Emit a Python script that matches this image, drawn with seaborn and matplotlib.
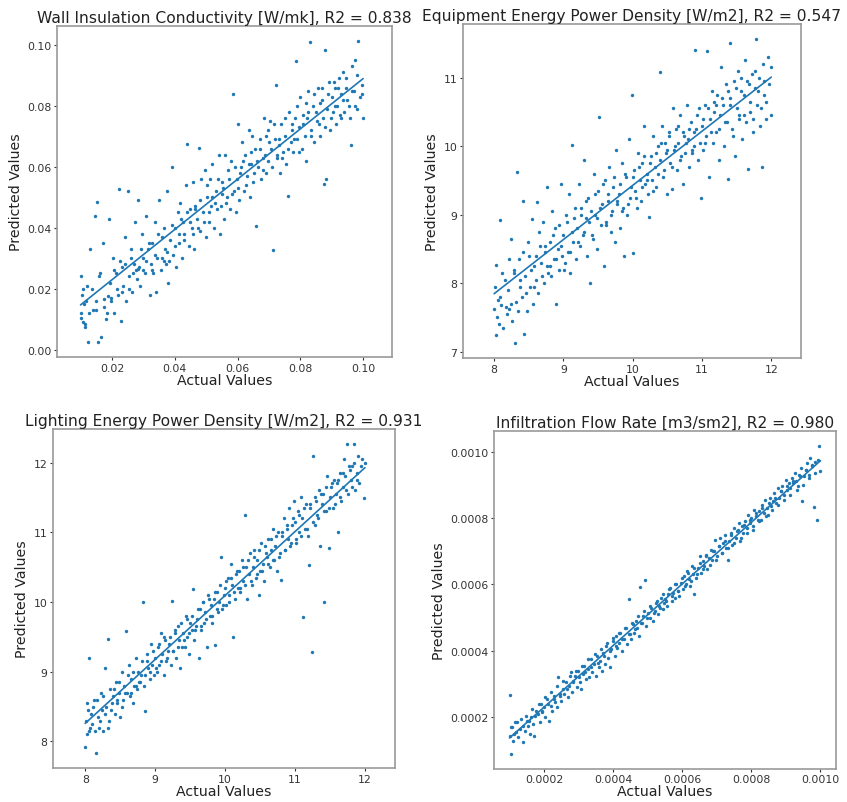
import numpy as np
import seaborn as sns
import matplotlib.pyplot as plt

# values (estimated cloud of points)
wall_actual = [
    0.0100, 0.0103, 0.0106, 0.0109, 0.0112, 0.0115, 0.0120, 0.0125, 0.0131, 0.0140,
    0.0145, 0.0148, 0.0152, 0.0155, 0.0160, 0.0165, 0.0170, 0.0176, 0.0182, 0.0188,
    0.0190, 0.0194, 0.0198, 0.0203, 0.0208, 0.0212, 0.0218, 0.0222, 0.0228, 0.0233,
    0.0236, 0.0240, 0.0245, 0.0251, 0.0255, 0.0260, 0.0265, 0.0270, 0.0275, 0.0279,
    0.0282, 0.0286, 0.0290, 0.0295, 0.0300, 0.0305, 0.0310, 0.0315, 0.0320, 0.0324,
    0.0328, 0.0332, 0.0336, 0.0340, 0.0345, 0.0350, 0.0355, 0.0360, 0.0365, 0.0369,
    0.0372, 0.0376, 0.0380, 0.0385, 0.0390, 0.0395, 0.0400, 0.0405, 0.0410, 0.0414,
    0.0418, 0.0422, 0.0426, 0.0430, 0.0435, 0.0440, 0.0445, 0.0450, 0.0455, 0.0459,
    0.0462, 0.0466, 0.0470, 0.0476, 0.0480, 0.0485, 0.0490, 0.0495, 0.0500, 0.0504,
    0.0508, 0.0512, 0.0516, 0.0520, 0.0525, 0.0530, 0.0535, 0.0540, 0.0545, 0.0549,
    0.0552, 0.0556, 0.0560, 0.0565, 0.0570, 0.0575, 0.0580, 0.0585, 0.0590, 0.0594,
    0.0598, 0.0602, 0.0606, 0.0610, 0.0615, 0.0620, 0.0625, 0.0630, 0.0635, 0.0639,
    0.0642, 0.0646, 0.0650, 0.0655, 0.0660, 0.0665, 0.0670, 0.0675, 0.0680, 0.0684,
    0.0688, 0.0692, 0.0696, 0.0700, 0.0705, 0.0710, 0.0713, 0.0718, 0.0722, 0.0727,
    0.0731, 0.0735, 0.0740, 0.0745, 0.0750, 0.0755, 0.0760, 0.0765, 0.0770, 0.0774,
    0.0778, 0.0782, 0.0786, 0.0790, 0.0795, 0.0800, 0.0805, 0.0810, 0.0815, 0.0819,
    0.0822, 0.0826, 0.0831, 0.0835, 0.0840, 0.0845, 0.0850, 0.0855, 0.0860, 0.0864,
    0.0868, 0.0872, 0.0876, 0.0879, 0.0882, 0.0886, 0.0890, 0.0895, 0.0900, 0.0905,
    0.0910, 0.0914, 0.0918, 0.0922, 0.0926, 0.0930, 0.0935, 0.0940, 0.0945, 0.0950,
    0.0958, 0.0962, 0.0966, 0.0970, 0.0975, 0.0980, 0.0985, 0.0990, 0.0995, 0.1000,
    0.0102, 0.0108, 0.0113, 0.0118, 0.0127, 0.0135, 0.0150, 0.0163, 0.0174, 0.0185,
    0.0196, 0.0205, 0.0215, 0.0225, 0.0231, 0.0243, 0.0253, 0.0262, 0.0268, 0.0277,
    0.0284, 0.0292, 0.0298, 0.0308, 0.0318, 0.0326, 0.0338, 0.0347, 0.0358, 0.0367,
    0.0374, 0.0383, 0.0392, 0.0402, 0.0412, 0.0420, 0.0428, 0.0438, 0.0448, 0.0457,
    0.0464, 0.0473, 0.0482, 0.0492, 0.0502, 0.0510, 0.0518, 0.0528, 0.0538, 0.0547,
    0.0554, 0.0563, 0.0572, 0.0582, 0.0592, 0.0600, 0.0608, 0.0618, 0.0628, 0.0637,
    0.0644, 0.0652, 0.0662, 0.0672, 0.0682, 0.0690, 0.0698, 0.0708, 0.0716, 0.0725,
    0.0733, 0.0742, 0.0752, 0.0762, 0.0772, 0.0780, 0.0788, 0.0797, 0.0807, 0.0817,
    0.0824, 0.0833, 0.0842, 0.0852, 0.0862, 0.0870, 0.0878, 0.0888, 0.0897, 0.0907,
    0.0912, 0.0920, 0.0928, 0.0937, 0.0947, 0.0955, 0.0964, 0.0973, 0.0982, 0.0997,
]
wall_pred = [
    0.0240, 0.0120, 0.0180, 0.0090, 0.0150, 0.0075, 0.0210, 0.0025, 0.0330, 0.0130,
    0.0440, 0.0160, 0.0486, 0.0025, 0.0240, 0.0040, 0.0350, 0.0140, 0.0100, 0.0175,
    0.0430, 0.0220, 0.0160, 0.0300, 0.0120, 0.0250, 0.0180, 0.0526, 0.0095, 0.0270,
    0.0210, 0.0370, 0.0160, 0.0519, 0.0240, 0.0330, 0.0190, 0.0280, 0.0420, 0.0230,
    0.0490, 0.0270, 0.0210, 0.0380, 0.0300, 0.0250, 0.0440, 0.0330, 0.0180, 0.0280,
    0.0350, 0.0250, 0.0420, 0.0190, 0.0300, 0.0490, 0.0260, 0.0370, 0.0290, 0.0330,
    0.0280, 0.0520, 0.0220, 0.0360, 0.0600, 0.0310, 0.0400, 0.0270, 0.0450, 0.0350,
    0.0480, 0.0300, 0.0420, 0.0380, 0.0540, 0.0675, 0.0340, 0.0460, 0.0400, 0.0550,
    0.0330, 0.0470, 0.0430, 0.0662, 0.0390, 0.0560, 0.0450, 0.0590, 0.0370, 0.0500,
    0.0420, 0.0560, 0.0470, 0.0610, 0.0400, 0.0520, 0.0460, 0.0640, 0.0380, 0.0510,
    0.0550, 0.0430, 0.0640, 0.0500, 0.0590, 0.0460, 0.0620, 0.0838, 0.0520, 0.0450,
    0.0560, 0.0740, 0.0490, 0.0600, 0.0680, 0.0520, 0.0640, 0.0570, 0.0720, 0.0500,
    0.0610, 0.0700, 0.0550, 0.0660, 0.0406, 0.0600, 0.0690, 0.0560, 0.0630, 0.0760,
    0.0640, 0.0580, 0.0720, 0.0680, 0.0750, 0.0600, 0.0328, 0.0690, 0.0870, 0.0630,
    0.0670, 0.0580, 0.0740, 0.0650, 0.0700, 0.0610, 0.0504, 0.0780, 0.0680, 0.0720,
    0.0650, 0.0760, 0.0949, 0.0690, 0.0730, 0.0830, 0.0660, 0.0770, 0.0700, 0.0620,
    0.0760, 0.0850, 0.1011, 0.0720, 0.0800, 0.0680, 0.0780, 0.0860, 0.0740, 0.0700,
    0.0820, 0.0760, 0.0545, 0.0984, 0.0561, 0.0790, 0.0880, 0.0720, 0.0830, 0.0780,
    0.0860, 0.0740, 0.0800, 0.0890, 0.0770, 0.0840, 0.0910, 0.0780, 0.0860, 0.0820,
    0.0760, 0.0670, 0.0930, 0.0850, 0.0800, 0.0900, 0.1013, 0.0830, 0.0870, 0.0760,
    0.0105, 0.0200, 0.0085, 0.0160, 0.0120, 0.0200, 0.0130, 0.0250, 0.0165, 0.0120,
    0.0170, 0.0260, 0.0200, 0.0290, 0.0190, 0.0280, 0.0200, 0.0300, 0.0250, 0.0260,
    0.0265, 0.0330, 0.0260, 0.0290, 0.0350, 0.0260, 0.0310, 0.0380, 0.0300, 0.0400,
    0.0320, 0.0290, 0.0410, 0.0340, 0.0380, 0.0430, 0.0360, 0.0450, 0.0420, 0.0380,
    0.0460, 0.0400, 0.0490, 0.0420, 0.0540, 0.0450, 0.0500, 0.0480, 0.0560, 0.0470,
    0.0530, 0.0480, 0.0560, 0.0510, 0.0600, 0.0530, 0.0580, 0.0620, 0.0540, 0.0610,
    0.0650, 0.0580, 0.0620, 0.0660, 0.0590, 0.0700, 0.0620, 0.0660, 0.0740, 0.0640,
    0.0690, 0.0630, 0.0760, 0.0660, 0.0740, 0.0690, 0.0800, 0.0650, 0.0740, 0.0810,
    0.0780, 0.0700, 0.0840, 0.0750, 0.0810, 0.0860, 0.0730, 0.0840, 0.0760, 0.0880,
    0.0800, 0.0860, 0.0760, 0.0820, 0.0890, 0.0800, 0.0850, 0.0950, 0.0790, 0.0840,
]

equip_actual = [
    8.00, 8.02, 8.03, 8.05, 8.07, 8.08, 8.10, 8.13, 8.15, 8.18,
    8.20, 8.22, 8.24, 8.26, 8.28, 8.30, 8.32, 8.33, 8.36, 8.38,
    8.40, 8.42, 8.43, 8.45, 8.47, 8.50, 8.52, 8.54, 8.56, 8.58,
    8.60, 8.62, 8.64, 8.66, 8.68, 8.70, 8.72, 8.74, 8.76, 8.78,
    8.80, 8.82, 8.84, 8.86, 8.88, 8.90, 8.92, 8.94, 8.96, 8.98,
    9.00, 9.02, 9.04, 9.06, 9.08, 9.10, 9.12, 9.14, 9.16, 9.18,
    9.20, 9.22, 9.24, 9.26, 9.28, 9.30, 9.32, 9.34, 9.36, 9.39,
    9.40, 9.42, 9.44, 9.46, 9.48, 9.50, 9.52, 9.54, 9.56, 9.58,
    9.60, 9.62, 9.64, 9.66, 9.68, 9.70, 9.72, 9.74, 9.76, 9.78,
    9.80, 9.82, 9.84, 9.86, 9.88, 9.90, 9.92, 9.94, 9.96, 9.99,
    10.00, 10.02, 10.04, 10.06, 10.08, 10.10, 10.12, 10.14, 10.16, 10.18,
    10.20, 10.22, 10.24, 10.26, 10.28, 10.30, 10.32, 10.34, 10.36, 10.39,
    10.40, 10.42, 10.44, 10.46, 10.48, 10.50, 10.52, 10.54, 10.57, 10.58,
    10.60, 10.62, 10.64, 10.66, 10.68, 10.70, 10.72, 10.74, 10.76, 10.78,
    10.80, 10.82, 10.84, 10.86, 10.88, 10.90, 10.92, 10.94, 10.96, 10.98,
    11.00, 11.02, 11.04, 11.06, 11.08, 11.10, 11.12, 11.14, 11.16, 11.18,
    11.20, 11.22, 11.24, 11.26, 11.28, 11.30, 11.32, 11.34, 11.36, 11.38,
    11.40, 11.41, 11.44, 11.46, 11.48, 11.50, 11.52, 11.54, 11.56, 11.58,
    11.60, 11.62, 11.64, 11.67, 11.68, 11.70, 11.72, 11.74, 11.76, 11.78,
    11.80, 11.82, 11.84, 11.86, 11.88, 11.90, 11.92, 11.95, 11.97, 12.00,
    8.01, 8.04, 8.09, 8.12, 8.17, 8.21, 8.25, 8.29, 8.34, 8.37,
    8.41, 8.46, 8.49, 8.53, 8.57, 8.61, 8.65, 8.69, 8.73, 8.77,
    8.81, 8.85, 8.89, 8.93, 8.97, 9.01, 9.05, 9.09, 9.13, 9.17,
    9.21, 9.25, 9.29, 9.33, 9.37, 9.41, 9.45, 9.49, 9.53, 9.57,
    9.61, 9.65, 9.69, 9.73, 9.77, 9.81, 9.85, 9.89, 9.93, 9.97,
    10.01, 10.05, 10.09, 10.13, 10.17, 10.21, 10.25, 10.29, 10.33, 10.37,
    10.41, 10.45, 10.49, 10.53, 10.57, 10.61, 10.65, 10.69, 10.73, 10.77,
    10.81, 10.85, 10.89, 10.93, 10.97, 11.01, 11.05, 11.09, 11.13, 11.17,
    11.21, 11.25, 11.29, 11.33, 11.37, 11.41, 11.45, 11.49, 11.53, 11.57,
    11.61, 11.65, 11.69, 11.73, 11.77, 11.81, 11.85, 11.89, 11.93, 11.99,
]
equip_pred = [
    7.62, 8.27, 7.24, 7.75, 7.40, 8.92, 7.68, 7.35, 8.05, 7.55,
    7.90, 7.62, 8.65, 7.45, 8.15, 7.13, 7.72, 9.63, 8.35, 7.95,
    7.80, 9.20, 7.26, 8.10, 7.60, 8.40, 7.95, 8.94, 7.70, 8.25,
    8.05, 9.18, 7.85, 8.55, 8.30, 8.90, 8.00, 8.45, 9.40, 8.15,
    8.60, 8.10, 9.05, 8.35, 8.80, 7.70, 8.50, 8.20, 9.45, 8.40,
    8.70, 8.30, 9.00, 8.45, 9.30, 8.15, 10.02, 8.60, 8.95, 8.35,
    8.80, 9.45, 8.55, 9.10, 8.70, 9.80, 8.95, 8.40, 9.25, 8.00,
    9.05, 8.65, 9.60, 9.00, 8.50, 9.35, 10.43, 8.85, 9.15, 8.25,
    9.50, 8.90, 9.20, 9.70, 8.75, 9.05, 9.40, 8.60, 9.95, 9.15,
    9.30, 8.80, 9.75, 9.10, 8.40, 9.55, 9.00, 10.10, 9.25, 10.75,
    8.44, 9.65, 9.35, 9.10, 9.90, 9.50, 9.20, 9.75, 10.30, 9.45,
    9.60, 9.30, 8.96, 9.85, 9.50, 10.15, 9.70, 9.40, 10.00, 11.08,
    9.80, 10.30, 9.55, 10.05, 9.90, 9.30, 10.20, 9.75, 9.38, 10.55,
    9.95, 10.25, 9.65, 10.05, 10.45, 9.85, 9.45, 10.15, 9.90, 10.60,
    10.10, 9.70, 10.35, 9.95, 10.00, 11.40, 10.25, 9.80, 10.55, 9.25,
    10.30, 9.95, 10.60, 10.15, 11.39, 9.55, 10.40, 10.80, 10.05, 10.50,
    10.20, 10.75, 9.80, 10.45, 11.15, 10.60, 10.00, 10.90, 10.35, 9.52,
    10.70, 11.50, 10.25, 10.95, 9.85, 10.55, 11.10, 10.40, 10.80, 10.10,
    10.75, 11.25, 10.35, 9.66, 10.90, 10.50, 11.05, 10.20, 10.85, 11.56,
    10.60, 11.00, 10.30, 9.69, 11.20, 10.75, 10.40, 11.30, 10.90, 10.45,
    7.95, 7.50, 7.80, 8.15, 7.65, 8.35, 7.70, 8.20, 7.60, 8.05,
    8.45, 7.85, 8.60, 8.20, 7.95, 8.40, 8.75, 8.10, 8.55, 8.25,
    8.25, 8.70, 8.35, 8.85, 8.55, 8.20, 8.90, 8.45, 8.75, 9.10,
    8.60, 9.00, 8.75, 9.20, 8.90, 8.70, 9.30, 8.95, 9.10, 9.45,
    8.85, 9.30, 9.00, 9.55, 9.20, 9.45, 9.05, 9.60, 9.15, 9.40,
    9.55, 9.25, 9.70, 9.40, 9.85, 9.50, 9.75, 9.35, 9.90, 9.60,
    10.05, 9.65, 9.95, 10.15, 9.70, 10.00, 10.30, 9.80, 10.20, 10.05,
    10.25, 9.90, 10.20, 10.45, 10.05, 10.40, 10.05, 10.55, 10.20, 10.65,
    10.60, 10.25, 10.70, 10.35, 10.80, 10.60, 10.15, 10.85, 10.45, 11.00,
    10.45, 10.95, 10.65, 10.40, 11.10, 10.80, 10.55, 10.95, 10.65, 11.15,
]

light_actual = [
    8.00, 8.01, 8.03, 8.05, 8.06, 8.08, 8.10, 8.12, 8.15, 8.18,
    8.20, 8.22, 8.24, 8.26, 8.28, 8.30, 8.32, 8.34, 8.36, 8.38,
    8.40, 8.42, 8.44, 8.46, 8.48, 8.50, 8.52, 8.54, 8.56, 8.59,
    8.60, 8.62, 8.64, 8.66, 8.68, 8.70, 8.72, 8.74, 8.76, 8.78,
    8.80, 8.82, 8.84, 8.86, 8.88, 8.90, 8.92, 8.94, 8.96, 8.98,
    9.00, 9.02, 9.04, 9.06, 9.08, 9.10, 9.12, 9.14, 9.16, 9.18,
    9.20, 9.22, 9.24, 9.26, 9.28, 9.30, 9.32, 9.34, 9.36, 9.38,
    9.40, 9.42, 9.44, 9.46, 9.48, 9.50, 9.52, 9.54, 9.56, 9.58,
    9.60, 9.63, 9.64, 9.66, 9.68, 9.70, 9.72, 9.74, 9.76, 9.78,
    9.80, 9.82, 9.84, 9.86, 9.88, 9.90, 9.92, 9.94, 9.96, 9.98,
    10.00, 10.02, 10.04, 10.06, 10.08, 10.10, 10.12, 10.14, 10.16, 10.18,
    10.20, 10.22, 10.24, 10.26, 10.29, 10.30, 10.32, 10.34, 10.36, 10.38,
    10.40, 10.42, 10.44, 10.46, 10.48, 10.50, 10.52, 10.54, 10.56, 10.58,
    10.60, 10.62, 10.64, 10.66, 10.68, 10.70, 10.72, 10.74, 10.76, 10.78,
    10.80, 10.82, 10.84, 10.86, 10.88, 10.90, 10.92, 10.94, 10.96, 10.98,
    11.00, 11.02, 11.04, 11.06, 11.08, 11.10, 11.12, 11.14, 11.16, 11.18,
    11.20, 11.22, 11.24, 11.26, 11.28, 11.30, 11.32, 11.34, 11.36, 11.38,
    11.40, 11.42, 11.44, 11.46, 11.49, 11.50, 11.52, 11.54, 11.56, 11.58,
    11.60, 11.61, 11.64, 11.66, 11.68, 11.70, 11.72, 11.75, 11.76, 11.78,
    11.80, 11.82, 11.85, 11.86, 11.88, 11.90, 11.92, 11.95, 11.98, 12.00,
    8.02, 8.04, 8.07, 8.11, 8.14, 8.17, 8.21, 8.25, 8.29, 8.33,
    8.37, 8.41, 8.45, 8.49, 8.53, 8.57, 8.61, 8.65, 8.69, 8.73,
    8.77, 8.81, 8.85, 8.89, 8.93, 8.97, 9.01, 9.05, 9.09, 9.13,
    9.17, 9.21, 9.25, 9.29, 9.33, 9.37, 9.41, 9.45, 9.49, 9.53,
    9.57, 9.61, 9.65, 9.69, 9.73, 9.77, 9.81, 9.85, 9.89, 9.93,
    9.97, 10.01, 10.05, 10.09, 10.13, 10.17, 10.21, 10.25, 10.29, 10.33,
    10.37, 10.41, 10.45, 10.49, 10.53, 10.57, 10.61, 10.65, 10.69, 10.73,
    10.77, 10.81, 10.85, 10.89, 10.93, 10.97, 11.01, 11.05, 11.09, 11.13,
    11.17, 11.21, 11.25, 11.29, 11.33, 11.37, 11.41, 11.45, 11.49, 11.53,
    11.57, 11.61, 11.65, 11.69, 11.73, 11.77, 11.81, 11.85, 11.89, 11.96,
]
light_pred = [
    7.92, 8.30, 8.55, 8.15, 9.19, 8.40, 8.25, 8.60, 7.84, 8.35,
    8.20, 8.70, 8.45, 8.15, 9.05, 8.50, 9.47, 8.30, 8.75, 8.55,
    8.65, 8.40, 8.85, 8.55, 8.70, 8.35, 9.00, 8.60, 8.80, 9.59,
    8.70, 9.10, 8.65, 8.90, 8.55, 8.80, 9.20, 8.75, 9.00, 8.85,
    8.95, 10.00, 8.80, 8.43, 9.15, 9.05, 8.90, 9.40, 9.10, 8.95,
    9.20, 9.00, 9.35, 9.10, 9.55, 9.25, 8.95, 9.45, 9.15, 9.30,
    9.40, 9.10, 10.02, 9.30, 9.55, 9.20, 9.65, 9.45, 9.05, 9.35,
    9.55, 9.35, 9.80, 9.50, 9.25, 9.70, 9.60, 10.18, 9.45, 9.65,
    9.75, 9.19, 9.90, 9.60, 10.00, 9.70, 9.85, 9.35, 10.10, 9.80,
    9.95, 9.70, 10.05, 9.38, 10.15, 9.85, 10.00, 10.65, 9.90, 10.10,
    10.20, 9.95, 10.35, 10.10, 10.55, 10.25, 9.50, 10.05, 10.40, 10.20,
    10.45, 10.15, 10.60, 10.30, 11.25, 10.50, 10.05, 10.40, 10.70, 10.25,
    10.50, 10.75, 10.35, 10.60, 10.10, 10.45, 10.85, 10.55, 10.30, 10.70,
    10.65, 10.90, 10.50, 10.75, 11.05, 10.60, 10.80, 10.45, 11.00, 10.70,
    10.31, 10.95, 11.20, 10.75, 11.05, 10.90, 11.35, 10.85, 11.10, 11.45,
    11.15, 10.85, 11.30, 11.00, 11.50, 11.20, 9.79, 11.05, 11.40, 10.95,
    10.53, 11.35, 9.28, 12.09, 11.10, 11.45, 11.25, 11.60, 10.80, 11.40,
    11.55, 10.00, 11.30, 11.80, 10.77, 11.50, 11.65, 11.35, 11.75, 11.55,
    11.70, 11.01, 11.85, 11.45, 11.65, 12.05, 11.80, 12.26, 11.55, 11.90,
    11.75, 11.95, 12.26, 11.60, 11.85, 12.10, 11.70, 11.95, 11.49, 12.00,
    8.10, 8.45, 8.20, 8.50, 8.15, 8.60, 8.30, 8.65, 8.40, 8.20,
    8.45, 8.75, 8.60, 8.85, 8.50, 8.70, 8.95, 8.70, 9.00, 8.80,
    8.85, 9.15, 8.95, 9.25, 9.00, 9.30, 9.05, 9.40, 9.15, 9.50,
    9.20, 9.50, 9.30, 9.60, 9.35, 9.70, 9.45, 9.75, 9.55, 9.80,
    9.60, 9.90, 9.65, 10.00, 9.75, 10.05, 9.80, 10.15, 9.90, 10.25,
    9.95, 10.30, 10.00, 10.35, 10.15, 10.45, 10.20, 10.50, 10.25, 10.60,
    10.30, 10.65, 10.40, 10.75, 10.45, 10.80, 10.55, 10.90, 10.60, 10.95,
    10.65, 11.00, 10.75, 11.10, 10.80, 11.20, 10.90, 11.25, 10.95, 11.35,
    11.05, 11.40, 11.15, 11.50, 11.20, 11.55, 11.30, 11.65, 11.35, 11.70,
    11.40, 11.75, 11.50, 11.85, 11.60, 11.95, 11.65, 12.00, 11.75, 12.05,
]

# infiltration values in units of 1e-4 m3/sm2
infil_actual = [
    1.00, 1.01, 1.04, 1.07, 1.10, 1.15, 1.20, 1.26, 1.32, 1.38,
    1.45, 1.50, 1.54, 1.58, 1.62, 1.67, 1.72, 1.77, 1.82, 1.87,
    1.90, 1.95, 2.00, 2.04, 2.09, 2.14, 2.19, 2.24, 2.28, 2.32,
    2.36, 2.40, 2.45, 2.50, 2.54, 2.58, 2.63, 2.68, 2.72, 2.77,
    2.80, 2.85, 2.90, 2.94, 2.98, 3.03, 3.08, 3.12, 3.17, 3.22,
    3.26, 3.30, 3.35, 3.40, 3.44, 3.49, 3.54, 3.58, 3.63, 3.67,
    3.71, 3.76, 3.80, 3.85, 3.90, 3.94, 3.99, 4.04, 4.08, 4.12,
    4.16, 4.20, 4.25, 4.30, 4.34, 4.39, 4.45, 4.48, 4.53, 4.57,
    4.61, 4.66, 4.70, 4.74, 4.78, 4.83, 4.87, 4.91, 4.96, 5.00,
    5.06, 5.10, 5.15, 5.20, 5.24, 5.29, 5.34, 5.38, 5.43, 5.47,
    5.51, 5.55, 5.60, 5.64, 5.69, 5.73, 5.78, 5.83, 5.87, 5.92,
    5.96, 6.01, 6.05, 6.10, 6.14, 6.19, 6.23, 6.28, 6.32, 6.35,
    6.41, 6.45, 6.50, 6.55, 6.59, 6.64, 6.68, 6.73, 6.78, 6.82,
    6.87, 6.91, 6.96, 7.00, 7.05, 7.09, 7.14, 7.19, 7.23, 7.28,
    7.33, 7.36, 7.41, 7.45, 7.50, 7.55, 7.59, 7.64, 7.68, 7.72,
    7.77, 7.81, 7.86, 7.90, 7.95, 8.00, 8.04, 8.09, 8.13, 8.18,
    8.22, 8.27, 8.31, 8.36, 8.40, 8.45, 8.49, 8.54, 8.58, 8.63,
    8.67, 8.72, 8.76, 8.81, 8.85, 8.90, 8.94, 8.99, 9.03, 9.08,
    9.12, 9.17, 9.21, 9.26, 9.30, 9.35, 9.39, 9.44, 9.47, 9.52,
    9.57, 9.61, 9.66, 9.70, 9.75, 9.81, 9.85, 9.90, 9.97, 10.00,
    1.03, 1.12, 1.21, 1.30, 1.39, 1.48, 1.57, 1.66, 1.75, 1.84,
    1.93, 2.02, 2.11, 2.20, 2.29, 2.38, 2.47, 2.56, 2.65, 2.74,
    2.83, 2.92, 3.01, 3.10, 3.19, 3.28, 3.37, 3.46, 3.55, 3.64,
    3.73, 3.82, 3.91, 4.00, 4.09, 4.18, 4.27, 4.36, 4.45, 4.54,
    4.63, 4.72, 4.81, 4.90, 4.99, 5.08, 5.17, 5.26, 5.35, 5.44,
    5.53, 5.62, 5.71, 5.80, 5.89, 5.98, 6.07, 6.16, 6.25, 6.34,
    6.43, 6.52, 6.61, 6.70, 6.79, 6.88, 6.97, 7.06, 7.15, 7.24,
    7.33, 7.42, 7.51, 7.60, 7.69, 7.78, 7.87, 7.96, 8.05, 8.14,
    8.23, 8.32, 8.41, 8.50, 8.59, 8.68, 8.77, 8.86, 8.95, 9.04,
    9.13, 9.22, 9.31, 9.40, 9.49, 9.58, 9.67, 9.76, 9.85, 9.94,
]
infil_pred = [
    1.45, 2.66, 0.91, 1.70, 1.30, 1.85, 1.55, 1.40, 1.95, 1.25,
    1.60, 1.90, 1.75, 1.50, 2.00, 1.80, 1.45, 2.20, 2.10, 1.85,
    2.40, 2.15, 2.30, 2.00, 2.55, 1.90, 2.35, 2.20, 2.65, 2.45,
    2.30, 3.20, 2.65, 2.50, 2.85, 2.70, 3.05, 2.60, 2.95, 3.35,
    2.75, 3.10, 3.25, 2.90, 3.40, 3.05, 2.85, 3.30, 3.55, 3.15,
    3.45, 3.20, 3.75, 3.35, 3.60, 3.25, 3.85, 3.50, 3.70, 3.40,
    3.95, 3.60, 4.15, 3.80, 3.50, 4.05, 4.30, 3.85, 4.45, 4.10,
    4.25, 4.55, 4.00, 4.35, 4.70, 4.20, 5.55, 4.50, 4.35, 4.80,
    4.55, 4.90, 4.70, 4.45, 5.93, 4.85, 5.05, 6.12, 4.75, 5.15,
    5.00, 5.30, 4.90, 5.20, 5.45, 5.10, 5.35, 5.60, 5.25, 5.45,
    5.55, 5.35, 5.70, 5.90, 5.50, 5.75, 5.60, 6.00, 5.80, 5.65,
    6.05, 5.85, 6.25, 6.00, 6.40, 6.15, 5.95, 6.55, 6.30, 5.72,
    6.20, 6.50, 6.85, 6.35, 6.70, 6.55, 6.90, 6.45, 6.80, 7.05,
    6.75, 7.00, 7.35, 6.85, 7.15, 7.40, 6.95, 7.25, 7.50, 7.10,
    6.73, 7.30, 7.55, 7.20, 7.70, 7.40, 7.60, 7.85, 7.30, 7.75,
    7.55, 7.90, 7.70, 8.10, 7.85, 8.00, 7.65, 8.25, 8.05, 7.95,
    8.20, 7.95, 8.40, 8.15, 8.55, 8.30, 8.10, 8.60, 8.35, 8.50,
    8.75, 8.45, 8.90, 8.60, 8.80, 8.95, 8.70, 9.15, 8.85, 9.05,
    8.90, 9.20, 9.05, 9.35, 9.10, 8.95, 9.30, 9.50, 8.52, 9.25,
    9.45, 9.65, 9.30, 9.80, 9.55, 8.33, 9.70, 7.95, 10.16, 9.40,
    1.70, 1.50, 1.85, 1.65, 1.75, 2.05, 1.90, 2.25, 2.05, 2.40,
    2.20, 2.60, 2.40, 2.75, 2.55, 2.95, 2.70, 3.10, 2.85, 3.25,
    3.05, 3.40, 3.20, 3.55, 3.35, 3.75, 3.50, 3.90, 3.65, 4.05,
    3.85, 4.25, 4.00, 4.40, 4.15, 4.55, 4.35, 4.70, 4.50, 4.85,
    4.65, 5.05, 4.85, 5.20, 5.00, 5.35, 5.15, 5.50, 5.30, 5.70,
    5.50, 5.85, 5.65, 6.00, 5.80, 6.20, 5.95, 6.35, 6.10, 6.50,
    6.30, 6.65, 6.45, 6.85, 6.60, 7.00, 6.75, 7.15, 6.95, 7.30,
    7.10, 7.50, 7.25, 7.65, 7.40, 7.80, 7.55, 7.95, 7.75, 8.15,
    7.90, 8.30, 8.05, 8.45, 8.25, 8.60, 8.40, 8.80, 8.55, 8.95,
    8.70, 9.10, 8.85, 9.25, 9.00, 9.45, 9.20, 9.60, 9.35, 9.75,
]

titles = [
    'Wall Insulation Conductivity [W/mk], R2 = 0.838',
    'Equipment Energy Power Density [W/m2], R2 = 0.547',
    'Lighting Energy Power Density [W/m2], R2 = 0.931',
    'Infiltration Flow Rate [m3/sm2], R2 = 0.980',
]

BLUE = '#1f77b4'

sns.set_style('ticks')
fig = plt.figure(figsize=(8.47, 8.03), dpi=100)

# axes boxes (left, bottom, width, height) in figure fractions
boxes = [
    [0.0673, 0.5542, 0.3955, 0.4122],
    [0.5466, 0.5529, 0.3991, 0.4159],
    [0.0626, 0.0423, 0.4038, 0.4222],
    [0.5832, 0.0412, 0.4038, 0.4210],
]
panels = [
    (np.array(wall_actual), np.array(wall_pred)),
    (np.array(equip_actual), np.array(equip_pred)),
    (np.array(light_actual), np.array(light_pred)),
    (np.array(infil_actual) * 1e-4, np.array(infil_pred) * 1e-4),
]
xlims = [(0.0025, 0.1092), (7.55, 12.43), (7.54, 12.43), None]

for box, (xv, yv), title, xlim in zip(boxes, panels, titles, xlims):
    ax = fig.add_axes(box)
    sns.regplot(x=xv, y=yv, ax=ax, ci=None, color=BLUE,
                scatter_kws={'s': 6, 'linewidths': 0, 'alpha': 1},
                line_kws={'lw': 1.2})
    if xlim is not None:
        ax.set_xlim(xlim)
    ax.set_title(title, fontsize=11.2, pad=3, color='#222222')
    ax.set_xlabel('Actual Values', fontsize=10.2, labelpad=0, color='#222222')
    ax.set_ylabel('Predicted Values', fontsize=10.2, labelpad=3, color='#222222')
    ax.tick_params(labelsize=7.8, colors='#333333', length=2, width=0.8, pad=2)
    for s in ax.spines.values():
        s.set_color('#999999')
        s.set_linewidth(1.2)

fig.savefig('out.png', dpi=100)
